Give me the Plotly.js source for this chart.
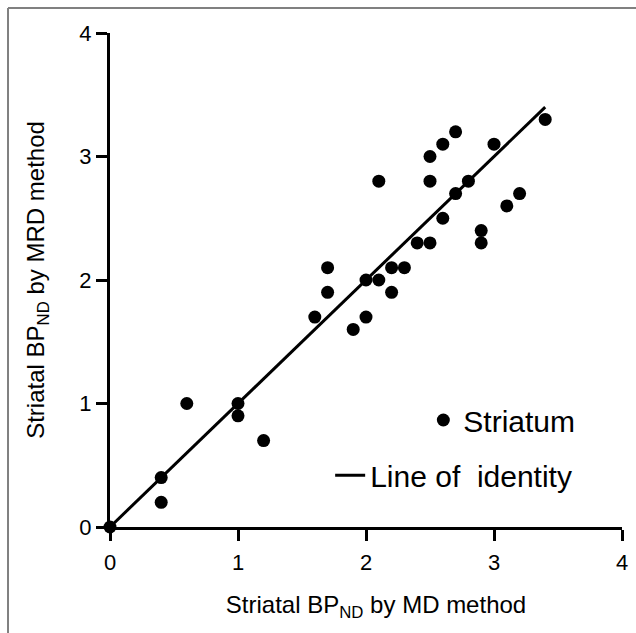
<!DOCTYPE html>
<html>
<head>
<meta charset="utf-8">
<script src="https://cdn.plot.ly/plotly-3.0.1.min.js"></script>
<style>html,body{margin:0;padding:0;background:#fff;}#chart{width:636px;height:633px;}</style>
</head>
<body>
<div id="chart"></div>
<script>
// Striatal BP_ND: MD method (x) vs MRD method (y)
const mdValues  = [0.0, 0.4, 0.4, 0.6, 1.0, 1.0, 1.2, 1.6, 1.7, 1.7, 1.9, 2.0, 2.0, 2.1, 2.1, 2.2, 2.2, 2.3, 2.4, 2.5, 2.5, 2.5, 2.6, 2.6, 2.7, 2.7, 2.8, 2.9, 2.9, 3.0, 3.1, 3.2, 3.4];
const mrdValues = [0.0, 0.4, 0.2, 1.0, 1.0, 0.9, 0.7, 1.7, 2.1, 1.9, 1.6, 2.0, 1.7, 2.0, 2.8, 2.1, 1.9, 2.1, 2.3, 2.3, 2.8, 3.0, 2.5, 3.1, 2.7, 3.2, 2.8, 2.4, 2.3, 3.1, 2.6, 2.7, 3.3];
const identityX = [0, 3.4];
const identityY = [0, 3.4];
const tickVals = [0, 1, 2, 3, 4];
const tickText = ["0", "1", "2", "3", "4"];

const FONT = "Liberation Sans, Arial, sans-serif";

const traces = [
  {
    x: mdValues, y: mrdValues, type: "scatter", mode: "markers",
    name: "Striatum", legend: "legend",
    marker: {color: "#000", size: 13},
    cliponaxis: false
  },
  {
    x: identityX, y: identityY, type: "scatter", mode: "lines",
    name: "Line of&nbsp; identity", legend: "legend2",
    line: {color: "#000", width: 3},
    cliponaxis: false
  }
];

const axisCommon = {
  range: [0, 4], tickvals: tickVals, ticktext: tickText,
  showgrid: false, zeroline: false,
  showline: true, linecolor: "#000", linewidth: 3,
  ticks: "outside", ticklen: 11, tickwidth: 3, tickcolor: "#000",
  tickfont: {family: FONT, size: 22, color: "#000"},
  fixedrange: true
};

const layout = {
  width: 636, height: 633,
  margin: {l: 110, r: 14, t: 33, b: 106},
  paper_bgcolor: "#fff", plot_bgcolor: "#fff",
  font: {family: FONT, color: "#000"},
  showlegend: true,
  xaxis: Object.assign({}, axisCommon, {
    ticklabelstandoff: 3,
    title: {text: "&nbsp;&nbsp;&nbsp;Striatal BP<sub>ND</sub> by MD method", font: {family: FONT, size: 24, color: "#000"}, standoff: 22}
  }),
  yaxis: Object.assign({}, axisCommon, {
    title: {text: "Striatal BP<sub>ND</sub> by MRD method", font: {family: FONT, size: 24, color: "#000"}, standoff: 28}
  }),
  legend: {
    x: 0.612, y: 0.2166, xanchor: "left", yanchor: "middle",
    bgcolor: "rgba(0,0,0,0)", borderwidth: 0,
    font: {family: FONT, size: 30, color: "#000"}
  },
  legend2: {
    x: 0.43, y: 0.105, xanchor: "left", yanchor: "middle",
    bgcolor: "rgba(0,0,0,0)", borderwidth: 0,
    font: {family: FONT, size: 30, color: "#000"}
  },
  shapes: [
    {type: "line", xref: "paper", yref: "paper", x0: -0.1992, x1: -0.1992, y0: 1.0506, y1: -0.25, line: {color: "#808080", width: 2}},
    {type: "line", xref: "paper", yref: "paper", x0: -0.1992, x1: 1.05, y0: 1.0506, y1: 1.0506, line: {color: "#808080", width: 2}}
  ]
};

Plotly.newPlot("chart", traces, layout, {displayModeBar: false, staticPlot: true});
</script>
</body>
</html>
